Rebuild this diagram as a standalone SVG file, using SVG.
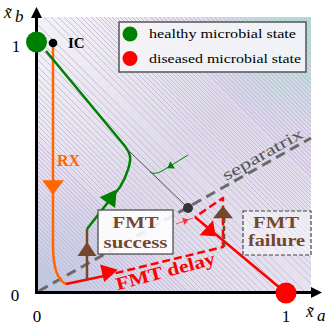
<svg xmlns="http://www.w3.org/2000/svg" width="332" height="327" viewBox="0 0 332 327" font-family="'Liberation Serif', 'Times New Roman', Times, serif">
<defs>
<style>
text{font-family:'Liberation Serif','Times New Roman',Times,serif;}
.ax{font-size:17px;fill:#000;}
.lbl{font-size:17px;font-weight:bold;fill:#74482a;text-anchor:middle;}
.leg{font-size:12.5px;fill:#000;}
.cont{fill:none;stroke:#c7b9d9;stroke-width:0.9;}
.traj{fill:none;stroke-width:2.5;stroke-linejoin:round;}
</style>
<linearGradient id="bg" x1="38" y1="17" x2="311" y2="292" gradientUnits="userSpaceOnUse">
<stop offset="0" stop-color="#f4f2f8"/>
<stop offset="0.5" stop-color="#dedaea"/>
<stop offset="1" stop-color="#e6e2ef"/>
</linearGradient>
<radialGradient id="teal" cx="311" cy="17" r="115" gradientUnits="userSpaceOnUse">
<stop offset="0" stop-color="#a4e8d4" stop-opacity="1"/>
<stop offset="1" stop-color="#a4e8d4" stop-opacity="0"/>
</radialGradient>
<radialGradient id="blue" cx="38" cy="292" r="110" gradientUnits="userSpaceOnUse">
<stop offset="0" stop-color="#bccde0" stop-opacity="1"/>
<stop offset="1" stop-color="#bccde0" stop-opacity="0"/>
</radialGradient>
<pattern id="hatch" width="6" height="3" patternUnits="userSpaceOnUse" patternTransform="rotate(45)">
<line x1="0" y1="1.5" x2="6" y2="1.5" stroke="#c6b6da" stroke-width="0.9"/>
</pattern>
<clipPath id="plot"><rect x="38" y="17" width="273" height="275"/></clipPath>
<path id="ah" d="M7,0 L-7,-9.5 L-7,9.5 Z"/>
</defs>

<g id="background" clip-path="url(#plot)">
<rect x="38" y="17" width="273" height="275" fill="url(#bg)"/>
<rect x="38" y="17" width="273" height="275" fill="url(#teal)"/>
<rect x="38" y="17" width="273" height="275" fill="url(#blue)"/>
<polygon points="147,17 311,17 311,181" fill="url(#hatch)"/>
<polygon points="38,138 38,292 192,292" fill="url(#hatch)"/>
<path class="cont" d="M38,11L311,284M38,4L311,277M38,-3L311,270M38,-9L311,264M38,-15L311,258M38,-21L311,252M38,-26L311,247M38,-31L311,242M38,-36L311,237M38,-41L311,232M38,-45L311,228M38,-49L311,224M38,-53L311,220M38,-57L311,216M38,-61L311,212M38,-65L311,208M38,-69L311,204M38,-73L311,200M38,-77L311,196M38,-81L311,192M38,-85L311,188M38,-89L311,184"/>
<path class="cont" d="M38,25L311,298M38,32L311,305M38,39L311,312M38,46L311,319M38,53L311,326M38,60L311,333M38,67L311,340M38,73L311,346M38,79L311,352M38,85L311,358M38,91L311,364M38,96L311,369M38,101L311,374M38,106L311,379M38,111L311,384M38,116L311,389M38,121L311,394M38,126L311,399M38,131L311,404M38,135L311,408"/>
</g>

<g id="separatrix">
<line x1="39" y1="291" x2="311" y2="138" stroke="#6a6a6a" stroke-width="3" stroke-dasharray="10 6"/>
<text x="226" y="181" transform="rotate(-29.4 226 181)" font-size="16" fill="#555" textLength="90" lengthAdjust="spacingAndGlyphs">separatrix</text>
</g>

<g id="axes">
<line x1="36.5" y1="294" x2="36.5" y2="16" stroke="#000" stroke-width="3"/>
<polygon points="36.5,7 31,18 42,18" fill="#000"/>
<line x1="35" y1="292.5" x2="312" y2="292.5" stroke="#000" stroke-width="3"/>
<polygon points="322,292.5 311,287 311,298" fill="#000"/>
<text class="ax" x="4" y="18" font-style="italic" font-size="20">x&#771;</text>
<text class="ax" x="15" y="22" font-style="italic" font-size="13">b</text>
<text class="ax" x="306" y="317" font-style="italic" font-size="20">x&#771;</text>
<text class="ax" x="317" y="321" font-style="italic" font-size="13">a</text>
<text class="ax" x="16" y="52" text-anchor="middle">1</text>
<text class="ax" x="15" y="301" text-anchor="middle">0</text>
<text class="ax" x="37" y="322" text-anchor="middle">0</text>
<text class="ax" x="286" y="322" text-anchor="middle">1</text>
</g>

<g id="connectors">
<path class="traj" stroke="#ff6600" d="M53,46 L53,245 C53,268 57,280 66,284"/>
<use href="#ah" transform="translate(53,187.5) rotate(90) scale(1.05,1.15)" fill="#ff6600"/>
<path class="traj" stroke="#ff0000" d="M66,284 L104,276"/>
<path class="traj" stroke="#ff0000" stroke-dasharray="8 4" d="M104,276 L223,247 L223,198 L195,217"/>
<path class="traj" stroke="#ff0000" d="M195,217 L286,293"/>
<use href="#ah" transform="translate(110,271.5) rotate(-13) scale(1.15,0.95)" fill="#ff0000"/>
<use href="#ah" transform="translate(211,232) rotate(42) scale(0.9,1.05)" fill="#ff0000"/>
<path class="traj" stroke="#74482a" d="M87,279 L87,229"/>
<use href="#ah" transform="translate(87,249) rotate(-90)" fill="#74482a"/>
<path class="traj" stroke="#74482a" stroke-dasharray="5 3" d="M224,247 L224,216"/>
<use href="#ah" transform="translate(223,212) rotate(-90) scale(0.9,1.05)" fill="#74482a"/>
<path class="traj" stroke="#008000" d="M87,229 L120,187 C127,176 131,162 130,156 C129,151 127,149 124,145 L46,51"/>
<use href="#ah" transform="translate(112,196) rotate(-55) scale(1.15,1)" fill="#008000"/>
<line x1="128" y1="150" x2="185" y2="205" stroke="#555" stroke-width="1"/>
<path d="M188,155 L162,171 Q155,175 150,172" fill="none" stroke="#008000" stroke-width="1"/>
<use href="#ah" transform="translate(170,166.5) rotate(148) scale(0.45)" fill="#008000"/>
<line x1="176" y1="224" x2="193" y2="218" stroke="#ff5050" stroke-width="1"/>
<use href="#ah" transform="translate(186,220.5) rotate(-19) scale(0.4)" fill="#ff3030"/>
</g>

<g id="fmt-delay-label">
<text x="167" y="277" transform="rotate(-15 167 277)" font-size="18" font-weight="bold" fill="#ff0000" text-anchor="middle" textLength="102" lengthAdjust="spacingAndGlyphs">FMT delay</text>
</g>

<g id="rx-label">
<text x="57" y="166" font-size="16" font-weight="bold" fill="#ff6600">RX</text>
</g>

<g id="healthy-state">
<circle cx="36.5" cy="42" r="10.5" fill="#008000"/>
</g>
<g id="diseased-state">
<circle cx="286" cy="293" r="10.5" fill="#ff0000"/>
</g>
<g id="ic">
<circle cx="53" cy="43" r="4.3" fill="#000"/>
<text x="68" y="48" font-size="15" font-weight="bold" fill="#000">IC</text>
</g>
<g id="saddle">
<circle cx="188" cy="208" r="5" fill="#333"/>
</g>

<g id="fmt-success">
<rect x="98" y="210" width="75" height="44" fill="#ffffff" fill-opacity="0.88" stroke="#444" stroke-width="1.2"/>
<text class="lbl" x="135.5" y="228" textLength="46" lengthAdjust="spacingAndGlyphs">FMT</text>
<text class="lbl" x="135.5" y="248" textLength="64" lengthAdjust="spacingAndGlyphs">success</text>
</g>

<g id="fmt-failure">
<rect x="243" y="211" width="68" height="44" fill="#ffffff" fill-opacity="0.45" stroke="#444" stroke-width="1.2" stroke-dasharray="4 2"/>
<text class="lbl" x="276" y="228" textLength="46" lengthAdjust="spacingAndGlyphs">FMT</text>
<text class="lbl" x="276.5" y="246" textLength="57" lengthAdjust="spacingAndGlyphs">failure</text>
</g>

<g id="legend">
<rect x="119" y="22" width="187" height="50" fill="#f4f4f7" fill-opacity="0.92" stroke="#555" stroke-width="1.5"/>
<circle cx="130" cy="34" r="7.5" fill="#008000"/>
<circle cx="130" cy="58.5" r="7.5" fill="#ff0000"/>
<text class="leg" x="149" y="38" textLength="147" lengthAdjust="spacingAndGlyphs">healthy microbial state</text>
<text class="leg" x="149" y="63" textLength="152" lengthAdjust="spacingAndGlyphs">diseased microbial state</text>
</g>
</svg>
